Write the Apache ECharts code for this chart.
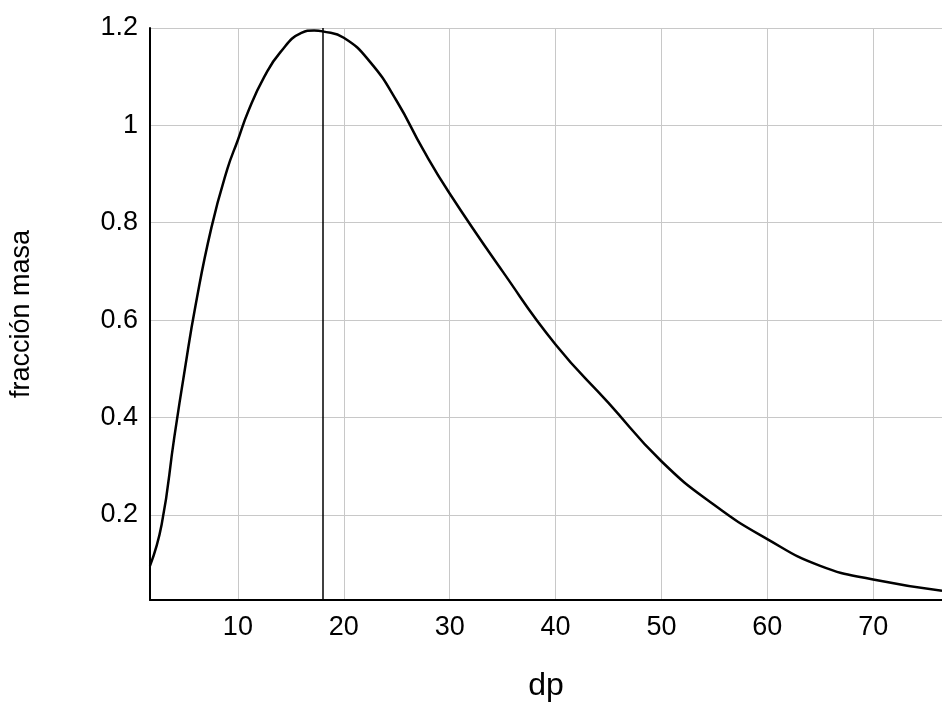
<!DOCTYPE html>
<html><head><meta charset="utf-8">
<script src="https://cdn.jsdelivr.net/npm/echarts@6/dist/echarts.min.js"></script>
<style>html,body{margin:0;padding:0;background:#fff}#c{width:942px;height:719px}</style>
</head><body><div id="c"></div>
<script>
const dp = [1.7,2.8,4,5,6,7.5,9,10,11,12.5,14,16,17.2,18,20,22.5,25,27.5,30,35,40,45,50,55,60,65,70,76.5];
const frac = [0.095,0.18,0.36,0.5,0.63,0.79,0.91,0.97,1.03,1.1,1.15,1.19,1.195,1.193,1.18,1.13,1.05,0.95,0.86,0.70,0.55,0.43,0.31,0.22,0.15,0.095,0.067,0.044];
const xTicks = [10,20,30,40,50,60,70];
const yTicks = [0.2,0.4,0.6,0.8,1,1.2];
const peak = 18;
const font = "Liberation Sans";
const chart = echarts.init(document.getElementById('c'));
chart.setOption({
  animation:false,
  grid:{left:150,right:0,top:28,bottom:119},
  xAxis:{type:'value',min:1.7,max:76.5,name:'dp',nameLocation:'middle',nameGap:70,
    nameTextStyle:{fontFamily:font,fontSize:32,color:'#000'},
    axisLine:{show:true,lineStyle:{color:'#000',width:2}},
    axisTick:{show:false,customValues:xTicks},
    axisLabel:{customValues:xTicks,fontFamily:font,fontSize:27,color:'#000',margin:14},
    splitLine:{show:true,lineStyle:{color:'#c8c8c8',width:1}}},
  yAxis:{type:'value',min:0.025,max:1.2,name:'fracción masa',nameLocation:'middle',nameGap:115,
    nameTextStyle:{fontFamily:font,fontSize:27,color:'#000'},
    axisLine:{show:true,lineStyle:{color:'#000',width:2}},
    axisTick:{show:false,customValues:yTicks},
    axisLabel:{customValues:yTicks,fontFamily:font,fontSize:27,color:'#000',margin:12,
      formatter:v=>String(Math.round(v*10)/10)},
    splitLine:{show:true,lineStyle:{color:'#c8c8c8',width:1}}},
  series:[{type:'line',data:dp.map((d,i)=>[d,frac[i]]),smooth:true,showSymbol:false,
    lineStyle:{color:'#000',width:2.5},
    markLine:{silent:true,symbol:'none',label:{show:false},lineStyle:{color:'#000',width:1.5,type:'solid'},
      data:[{xAxis:peak}]}}]
});
</script></body></html>
